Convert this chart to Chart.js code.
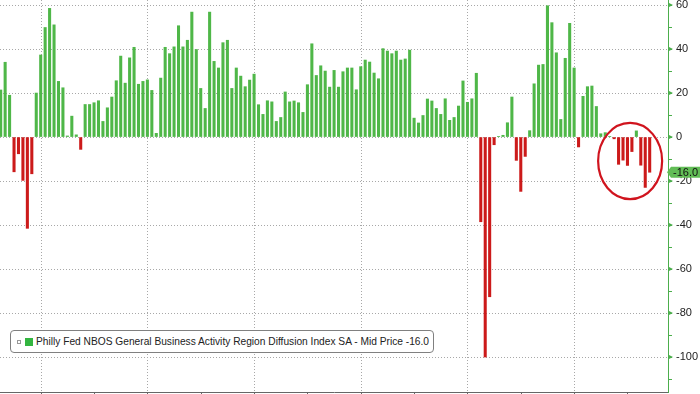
<!DOCTYPE html>
<html>
<head>
<meta charset="utf-8">
<script src="https://cdn.jsdelivr.net/npm/chart.js@4/dist/chart.umd.min.js"></script>
<style>
  html, body { margin: 0; padding: 0; background: #fff; }
  #quadro { position: relative; width: 700px; height: 394px; overflow: hidden; }
  #legenda {
    position: absolute; left: 10px; top: 330px; width: 424px; height: 23px;
    box-sizing: border-box; border: 1px solid #808080; border-radius: 4px;
    background: #fff; white-space: nowrap;
  }
  #legenda .icone {
    position: absolute; left: 6px; top: 9px; width: 4px; height: 4px;
    border: 1px solid #999; box-sizing: border-box;
  }
  #legenda .cor {
    position: absolute; left: 14px; top: 7px; width: 8px; height: 8px; background: #33b540;
  }
  #legenda .texto {
    position: absolute; left: 25px; top: 4px; font: 11.5px "Liberation Sans", Arial, sans-serif;
    color: #222; transform-origin: 0 0;
  }
</style>
</head>
<body>
<div id="quadro">
  <canvas id="grafico" width="700" height="394"></canvas>
  <div id="legenda">
    <span class="icone"></span><span class="cor"></span>
    <span class="texto" id="legenda-texto">Philly Fed NBOS General Business Activity Region Diffusion Index SA - Mid Price -16.0</span>
  </div>
</div>
<script>
// Valores mensais, a partir de março de 2011
const valores = [
  21.4, 34, 19, -15.8, -7.6, -19.7, -41.5, -16.7, 20, 37.3,
  49.8, 58.5, 51, 25.3, 22.4, 0.5, 9.5, 1, -5.6, 14.8,
  14.8, 15.6, 16.5, 7.1, 13.3, 18.2, 25.6, 36.8, 24.5, 36,
  40.8, 24, 25.3, 26, 21.2, 1.7, 26.8, 40.8, 37.9, 41,
  50.6, 41, 44, 56.8, 39.8, 22.1, 13, 56.8, 34.4, 31.4,
  42.9, 44, 22.1, 31.4, 27.7, 22.9, 25.9, 28.6, 14.7, 10.3,
  16.5, 16, 7.1, 8.9, 20.5, 16, 16.4, 15.6, 11.2, 23.8,
  42.4, 28, 32.4, 30, 22.7, 30.3, 22.7, 29.7, 31.4, 31.4,
  21.5, 32, 35, 34.1, 29.1, 26.5, 40.2, 39.1, 37.9, 39.1,
  35, 35.5, 39.5, 8.6, 6.4, 9.8, 17.3, 16.4, 13, 10.3,
  17.4, 7.6, 8.9, 14.1, 25.5, 15.8, 17.4, 29, -38.5, -100,
  -72.6, -3.5, 0.3, 0.8, 6.5, 18.2, -10.6, -24.7, -8.8, 2.9,
  24.2, 32.7, 33, 59.7, 52, 38.3, 8, 35.8, 51.7, 31.4,
  -4.5, 18.5, 22.9, 23.2, 13.9, 1.5, 2, 0.3, -0.8, -12.4,
  -10.5, -12.9, -6.6, 2.8, -12.8, -22.9, -16.0
];

const anoInicio = 2011;
const mesInicio = 3;
const meses = valores.map((v, i) => {
  const m = mesInicio - 1 + i;
  return (anoInicio + Math.floor(m / 12)) + '-' + String(m % 12 + 1).padStart(2, '0');
});

const rotulosY = [-100, -80, -60, -40, -20, 0, 20, 40, 60];
const menoresY = [-110, -90, -70, -50, -30, -10, 10, 30, 50];

// marcas de ano: logo depois de cada dezembro
const marcasX = [];
meses.forEach((m, i) => { if (m.endsWith('-12')) marcasX.push(i + 1.1); });

const VERDE = '#4fb748';
const VERMELHO = '#cc1a1a';
const ultimo = valores[valores.length - 1];

const destaques = {
  id: 'destaques',
  afterDraw(chart) {
    const ctx = chart.ctx;
    const sx = chart.scales.x, sy = chart.scales.y;

    // elipse vermelha em volta dos ultimos meses
    const x1 = sx.getPixelForValue(135.4), x2 = sx.getPixelForValue(149.8);
    const y1 = sy.getPixelForValue(6.4), y2 = sy.getPixelForValue(-28.2);
    ctx.save();
    ctx.strokeStyle = '#d0141e';
    ctx.lineWidth = 2.2;
    ctx.beginPath();
    ctx.ellipse((x1 + x2) / 2, (y1 + y2) / 2, (x2 - x1) / 2, (y2 - y1) / 2, 0, 0, Math.PI * 2);
    ctx.stroke();

    // setas verdes nas marcas principais
    const xe = chart.chartArea.right;
    ctx.fillStyle = '#4cae4c';
    rotulosY.forEach(v => {
      const py = sy.getPixelForValue(v);
      ctx.beginPath();
      ctx.moveTo(xe, py - 2.5);
      ctx.lineTo(xe + 5, py);
      ctx.lineTo(xe, py + 2.5);
      ctx.closePath();
      ctx.fill();
    });

    // etiqueta do ultimo valor
    const py = sy.getPixelForValue(ultimo);
    ctx.fillStyle = '#62bd56';
    ctx.beginPath();
    ctx.moveTo(xe - 1, py);
    ctx.lineTo(xe + 3, py - 5.5);
    ctx.lineTo(700, py - 5.5);
    ctx.lineTo(700, py + 5.5);
    ctx.lineTo(xe + 3, py + 5.5);
    ctx.closePath();
    ctx.fill();
    ctx.fillStyle = '#111';
    ctx.font = '11px "Liberation Sans", Arial, sans-serif';
    ctx.textBaseline = 'middle';
    ctx.fillText(ultimo.toFixed(1), xe + 5, py + 0.5);
    ctx.restore();
  }
};

const ctx = document.getElementById('grafico').getContext('2d');
new Chart(ctx, {
  type: 'bar',
  data: {
    datasets: [{
      data: valores.map((v, i) => ({ x: i + 1, y: v })),
      backgroundColor: valores.map(v => v < 0 ? VERMELHO : VERDE),
      barThickness: 2.4,
      borderWidth: 0
    }]
  },
  options: {
    responsive: false,
    animation: false,
    layout: { padding: 0 },
    plugins: { legend: { display: false }, tooltip: { enabled: false } },
    scales: {
      x: {
        type: 'linear',
        min: 0.843,
        max: 151.12,
        offset: false,
        afterBuildTicks: s => { s.ticks = marcasX.map(v => ({ value: v })); },
        afterFit: s => { s.height = 2; s.paddingLeft = 0; s.paddingRight = 0; },
        ticks: { display: false },
        grid: {
          offset: false,
          color: c => (c.index % 2 === 0 ? '#a8a8a8' : 'rgba(0,0,0,0)'),
          tickColor: '#666',
          tickLength: 3
        },
        border: { display: true, color: '#666', dash: [1, 2] }
      },
      y: {
        position: 'right',
        min: -115.9,
        max: 62.3,
        afterBuildTicks: s => {
          s.ticks = rotulosY.concat(menoresY).sort((a, b) => a - b).map(v => ({ value: v }));
        },
        afterFit: s => { s.width = 32; s.paddingTop = 0; s.paddingBottom = 0; },
        ticks: {
          autoSkip: false,
          padding: 4,
          color: '#222',
          font: { family: 'Liberation Sans', size: 11 },
          callback: v => (rotulosY.includes(v) ? String(v) : '')
        },
        grid: {
          color: c => (c.tick && rotulosY.includes(c.tick.value) ? '#a8a8a8' : 'rgba(0,0,0,0)'),
          tickColor: '#4cae4c',
          tickLength: 4
        },
        border: { display: true, color: '#4cae4c', width: 1, dash: [1, 2] }
      }
    }
  },
  plugins: [destaques]
});

// ajusta a largura do texto da legenda
const texto = document.getElementById('legenda-texto');
const largura = texto.getBoundingClientRect().width;
texto.style.transform = 'scaleX(' + (393 / largura) + ')';
</script>
</body>
</html>
